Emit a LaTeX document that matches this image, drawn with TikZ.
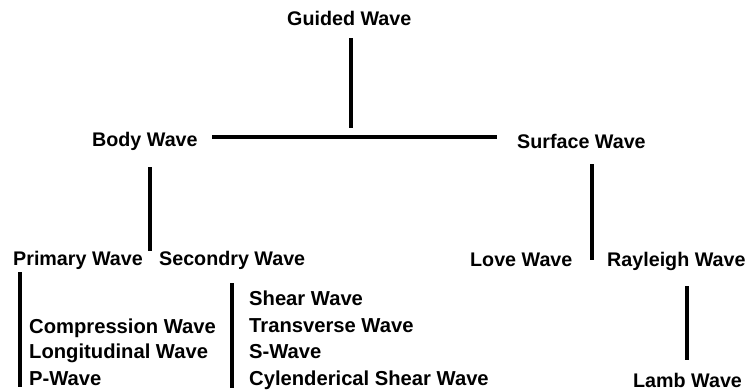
\documentclass[tikz,border=0pt]{standalone}
\usepackage{fontspec}
\setmainfont{Liberation Sans}
\usetikzlibrary{calc}

\begin{document}
\begin{tikzpicture}[x=1pt,y=-1pt]
\tikzset{wave/.style={font=\bfseries\fontsize{19.7}{22}\selectfont, inner sep=0pt, anchor=base west},
  kind/.style={wave, font=\bfseries\fontsize{20.2}{23}\selectfont},
  stem/.style={line width=4.5pt, black}}
\useasboundingbox (0,0) rectangle (747,391);
% level 0 and 1
\node[wave] (guided) at (287,25) {Guided Wave};
\node[wave] (body) at (92,146) {Body Wave};
\node[wave] (surface) at (517,148) {Surface Wave};
% level 2
\node[wave] (primary) at (13,265) {Primary Wave};
\node[wave] (secondry) at (159,265) {Secondry Wave};
\node[wave] (love) at (470,266) {Love Wave};
\node[wave] (rayleigh) at (607,266) {Rayleigh Wave};
% other names
\node[kind] (compression) at (29,333) {Compression Wave};
\node[kind] (longitudinal) at (29,358) {Longitudinal Wave};
\node[kind] (pwave) at (29,385) {P-Wave};
\node[kind] (shear) at (249,305) {Shear Wave};
\node[kind] (transverse) at (249,332) {Transverse Wave};
\node[kind] (swave) at (249,358) {S-Wave};
\node[kind] (cylend) at (249,385) {Cylenderical Shear Wave};
\node[wave] (lamb) at (633,387) {Lamb Wave};
% line ends
\coordinate (g1) at (351,38);  \coordinate (g2) at (351,128);
\coordinate (bl) at (212,137); \coordinate (br) at (497,137);
\coordinate (b1) at (150,167); \coordinate (b2) at (150,251);
\coordinate (s1) at (592,164); \coordinate (s2) at (592,260);
\coordinate (p1) at (20,272);  \coordinate (p2) at (20,387);
\coordinate (q1) at (232,283); \coordinate (q2) at (232,388);
\coordinate (r1) at (687,286); \coordinate (r2) at (687,360);
\draw[stem] (g1) -- (g2);
\draw[stem, line width=4pt] (bl) -- (br);
\draw[stem] (b1) -- (b2);
\draw[stem] (s1) -- (s2);
\draw[stem] (p1) -- (p2);
\draw[stem] (q1) -- (q2);
\draw[stem] (r1) -- (r2);
\end{tikzpicture}
\end{document}
